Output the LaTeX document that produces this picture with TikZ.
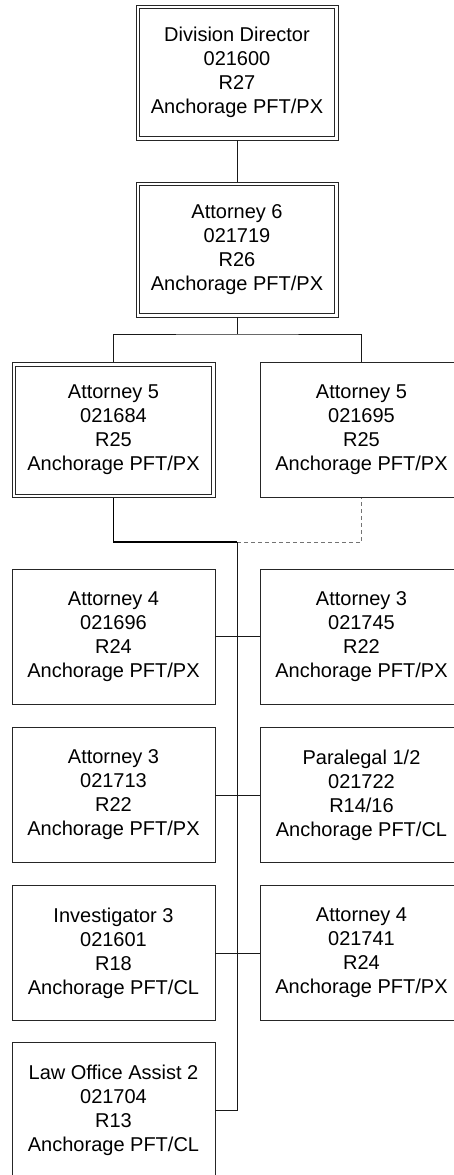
\documentclass[tikz,border=0pt]{standalone}
\usepackage{fontspec}
\setmainfont{Liberation Sans}
\begin{document}
\begin{tikzpicture}[x=1pt,y=-1pt,
  posbox/.style={draw=black!85, line width=0.8pt, minimum width=203pt, minimum height=135pt,
    align=center, inner sep=0pt, font=\fontsize{20}{24}\selectfont},
  innerframe/.style={draw=black!85, line width=0.8pt},
  conn/.style={draw=black!90, line width=0.8pt},
  thickconn/.style={draw=black, line width=1.8pt},
  vacconn/.style={draw=black!55, line width=1pt, dash pattern=on 4pt off 3pt}]
\useasboundingbox (0,0) rectangle (453,1175);
% top boxes
\node[posbox, minimum width=202pt] (dir) at (237,72.5) {Division Director\\021600\\R27\\Anchorage PFT/PX};
\draw[innerframe] ([shift={(4pt,-4pt)}]dir.north west) rectangle ([shift={(-4pt,4pt)}]dir.south east);
\node[posbox, minimum width=202pt] (a6) at (237,249.5) {Attorney 6\\021719\\R26\\Anchorage PFT/PX};
\draw[innerframe] ([shift={(4pt,-4pt)}]a6.north west) rectangle ([shift={(-4pt,4pt)}]a6.south east);
\node[posbox] (a5l) at (113.5,430) {Attorney 5\\021684\\R25\\Anchorage PFT/PX};
\draw[innerframe] ([shift={(4pt,-4pt)}]a5l.north west) rectangle ([shift={(-4pt,4pt)}]a5l.south east);
\node[posbox] (a5r) at (361.5,430) {Attorney 5\\021695\\R25\\Anchorage PFT/PX};
% staff
\node[posbox] (a4a) at (113.5,636.5) {Attorney 4\\021696\\R24\\Anchorage PFT/PX};
\node[posbox] (a3a) at (361.5,636.5) {Attorney 3\\021745\\R22\\Anchorage PFT/PX};
\node[posbox] (a3b) at (113.5,795) {Attorney 3\\021713\\R22\\Anchorage PFT/PX};
\node[posbox] (para) at (361.5,795) {Paralegal 1/2\\021722\\R14/16\\Anchorage PFT/CL};
\node[posbox] (inv) at (113.5,953) {Investigator 3\\021601\\R18\\Anchorage PFT/CL};
\node[posbox] (a4b) at (361.5,953) {Attorney 4\\021741\\R24\\Anchorage PFT/PX};
\node[posbox] (loa) at (113.5,1110) {Law Office Assist 2\\021704\\R13\\Anchorage PFT/CL};
% connectors
\coordinate (j1) at (237,334);
\coordinate (j2) at (237,542);
\coordinate (jend) at (237,1110);
\draw[conn] (dir.south) -- (a6.north);
\draw[conn] (a6.south) -- (j1);
\draw[conn] (a5l.north) |- (j1) -| (a5r.north);
\draw[thickconn] (a5l.south) |- (j2);
\draw[vacconn] (j2) -| (a5r.south);
\draw[conn] (j2) -- (jend) -- (loa.east);
\draw[conn] (a4a.east) -- (a3a.west);
\draw[conn] (a3b.east) -- (para.west);
\draw[conn] (inv.east) -- (a4b.west);
\end{tikzpicture}
\end{document}
